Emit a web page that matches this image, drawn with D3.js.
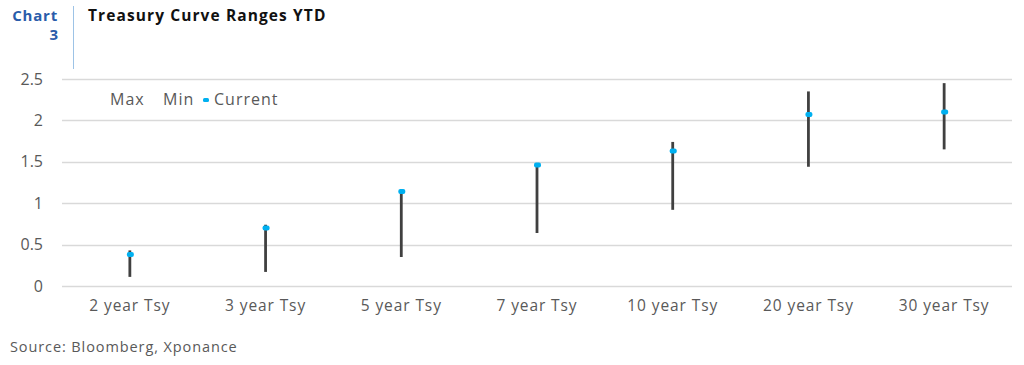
<!DOCTYPE html>
<html>
<head>
<meta charset="utf-8">
<script src="https://cdn.jsdelivr.net/npm/d3@7"></script>
<style>
  body { margin: 0; background: #fff; }
  text { font-family: "Open Sans", "Noto Sans", sans-serif; }
</style>
</head>
<body>
<div id="chart"></div>
<script>
// Chart data
const tenors = ["2 year Tsy", "3 year Tsy", "5 year Tsy", "7 year Tsy", "10 year Tsy", "20 year Tsy", "30 year Tsy"];
const maxValues = [0.43, 0.74, 1.15, 1.47, 1.74, 2.35, 2.45];
const minValues = [0.11, 0.17, 0.35, 0.64, 0.92, 1.44, 1.65];
const currentValues = [0.38, 0.70, 1.14, 1.46, 1.63, 2.07, 2.10];
const yTicks = [0, 0.5, 1, 1.5, 2, 2.5];

const width = 1024, height = 365;
const margin = { top: 79, right: 12, bottom: 79, left: 62 };

const svg = d3.select("#chart")
  .append("svg")
  .attr("width", width)
  .attr("height", height);

// Header
svg.append("text")
  .attr("x", 58).attr("y", 21)
  .attr("text-anchor", "end")
  .attr("fill", "#2a5caa")
  .style("font-size", "15px").style("font-weight", "bold")
  .style("letter-spacing", "0.8px")
  .text("Chart");
svg.append("text")
  .attr("x", 58).attr("y", 40)
  .attr("text-anchor", "end")
  .attr("fill", "#2a5caa")
  .style("font-size", "15px").style("font-weight", "bold")
  .text("3");
svg.append("line")
  .attr("x1", 73.5).attr("x2", 73.5)
  .attr("y1", 6).attr("y2", 69)
  .attr("stroke", "#9dc3e6").attr("stroke-width", 1);
svg.append("text")
  .attr("x", 88).attr("y", 21)
  .attr("fill", "#111")
  .style("font-size", "15.5px").style("font-weight", "bold")
  .style("letter-spacing", "1.1px")
  .text("Treasury Curve Ranges YTD");

// Scales
const x = d3.scaleBand()
  .domain(tenors)
  .range([margin.left, width - margin.right]);

const y = d3.scaleLinear()
  .domain([0, 2.5])
  .range([height - margin.bottom, margin.top]);

// Gridlines
svg.append("g")
  .selectAll("line")
  .data(yTicks)
  .enter()
  .append("line")
  .attr("x1", margin.left)
  .attr("x2", width - margin.right)
  .attr("y1", d => Math.round(y(d)) + 0.5)
  .attr("y2", d => Math.round(y(d)) + 0.5)
  .attr("stroke", "#d9d9d9")
  .attr("stroke-width", 1.3);

// Y axis labels
const yAxis = svg.append("g")
  .attr("transform", "translate(" + (margin.left - 16) + ",0)")
  .call(d3.axisLeft(y).tickValues(yTicks).tickSize(0).tickFormat(d => d3.format("")(d)));
yAxis.select(".domain").remove();
yAxis.selectAll("text")
  .attr("fill", "#595959")
  .style("font-size", "16px")
  .style("font-family", "\"Open Sans\", sans-serif");

// X axis labels
const xAxis = svg.append("g")
  .attr("transform", "translate(0," + (height - margin.bottom) + ")")
  .call(d3.axisBottom(x).tickSize(0).tickPadding(14));
xAxis.select(".domain").remove();
xAxis.selectAll("text")
  .attr("fill", "#595959")
  .style("font-size", "15.5px")
  .style("letter-spacing", "0.9px")
  .style("font-family", "\"Open Sans\", sans-serif");

// High-low lines
const rows = tenors.map((t, i) => ({ tenor: t, max: maxValues[i], min: minValues[i], current: currentValues[i] }));

svg.append("g")
  .selectAll("line")
  .data(rows)
  .enter()
  .append("line")
  .attr("x1", d => x(d.tenor) + x.bandwidth() / 2)
  .attr("x2", d => x(d.tenor) + x.bandwidth() / 2)
  .attr("y1", d => y(d.max))
  .attr("y2", d => y(d.min))
  .attr("stroke", "#404040")
  .attr("stroke-width", 2.8);

// Current markers
svg.append("g")
  .selectAll("rect")
  .data(rows)
  .enter()
  .append("rect")
  .attr("x", d => x(d.tenor) + x.bandwidth() / 2 - 3)
  .attr("y", d => y(d.current) - 2.5)
  .attr("width", 7)
  .attr("height", 5)
  .attr("rx", 2)
  .attr("fill", "#00b0f0");

// Legend
const legend = svg.append("g").attr("transform", "translate(0,105)")
  .style("font-size", "16px").style("letter-spacing", "1px");
legend.append("text").attr("x", 110).attr("y", 0)
  .attr("fill", "#595959").text("Max");
legend.append("text").attr("x", 163).attr("y", 0)
  .attr("fill", "#595959").text("Min");
legend.append("rect").attr("x", 203).attr("y", -7).attr("width", 6).attr("height", 4)
  .attr("rx", 1.5).attr("fill", "#00b0f0");
legend.append("text").attr("x", 214).attr("y", 0)
  .attr("fill", "#595959").text("Current");

// Source note
svg.append("text")
  .attr("x", 10).attr("y", 352)
  .attr("fill", "#595959")
  .style("font-size", "14.5px")
  .style("letter-spacing", "0.9px")
  .text("Source: Bloomberg, Xponance");
</script>
</body>
</html>
